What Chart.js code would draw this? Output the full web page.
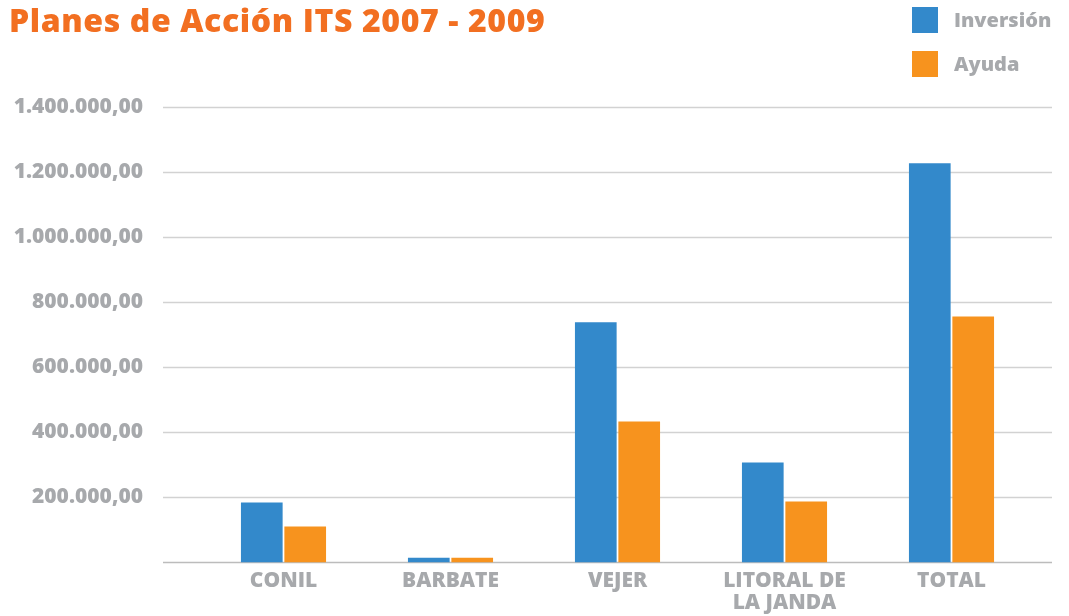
<!DOCTYPE html>
<html>
<head>
<meta charset="utf-8">
<script src="https://cdn.jsdelivr.net/npm/chart.js@4/dist/chart.umd.min.js"></script>
<style>
    body { margin:0; background:#fff; font-family:'Open Sans', sans-serif; overflow:hidden; }
    #wrap { position:relative; width:1069px; height:616px; overflow:hidden; }
    #title { position:absolute; left:9px; top:-2px; font-size:32px; font-weight:800; color:#f26f21; letter-spacing:0.6px; white-space:nowrap; }
    .leg { position:absolute; left:912px; font-size:20px; font-weight:800; color:#a7a9ac; white-space:nowrap; }
    .leg span { display:inline-block; width:26px; height:26px; vertical-align:top; margin-right:16px; }
</style>
</head>
<body>
<div id="wrap">
    <div id="title">Planes de Acción ITS 2007 - 2009</div>
    <div id="legend"></div>
    <!-- a bit taller than the window so the plot bottom lands like the original -->
    <canvas id="chart" width="1069" height="624"></canvas>
</div>
<script>
var categories = ['CONIL', 'BARBATE', 'VEJER', ['LITORAL DE', 'LA JANDA'], 'TOTAL'];
var seriesNames = ['Inversión', 'Ayuda'];
var inversion = [184000, 14000, 738000, 307000, 1227000];
var ayuda = [110000, 14000, 433000, 187000, 756000];
var yTicks = [0, 200000, 400000, 600000, 800000, 1000000, 1200000, 1400000];
var colors = ['#3389cb', '#f7931e'];

var grey = '#a7a9ac';

// 1.400.000,00 style
var fmt = function(v) {
    var s = Math.round(v).toString().replace(/\B(?=(\d{3})+(?!\d))/g, '.');
    return s + ',00';
};

// legend squares + labels
var legendEl = document.getElementById('legend');
seriesNames.forEach(function(name, i) {
    var d = document.createElement('div');
    d.className = 'leg';
    d.style.top = (7 + i * 44) + 'px';
    d.innerHTML = '<span style="background:' + colors[i] + '"></span>' + name;
    d.style.lineHeight = '26px';
    legendEl.appendChild(d);
});

// gridlines wider than the category area, drawn under the bars
var gridPlugin = {
    id: 'wideGrid',
    beforeDatasetsDraw: function(chart) {
        var ctx = chart.ctx, y = chart.scales.y;
        ctx.save();
        yTicks.forEach(function(t) {
            var py = Math.round(y.getPixelForValue(t)) + 0.5;
            ctx.beginPath();
            ctx.lineWidth = t === 0 ? 1.5 : 1.3;
            ctx.strokeStyle = t === 0 ? '#bcbcbc' : '#d2d2d2';
            ctx.moveTo(163, py);
            ctx.lineTo(1052, py);
            ctx.stroke();
        });
        ctx.restore();
    }
};

new Chart(document.getElementById('chart'), {
    type: 'bar',
    data: {
        labels: categories,
        datasets: [{
            label: seriesNames[0],
            data: inversion,
            backgroundColor: colors[0],
            categoryPercentage: 0.52,
            barPercentage: 0.96
        }, {
            label: seriesNames[1],
            data: ayuda,
            backgroundColor: colors[1],
            categoryPercentage: 0.52,
            barPercentage: 0.96
        }]
    },
    options: {
        responsive: false,
        animation: false,
        layout: { padding: { top: 107, right: 34, left: 0, bottom: 0 } },
        plugins: { legend: { display: false }, tooltip: { enabled: false } },
        scales: {
            x: {
                grid: { display: false },
                border: { display: false },
                ticks: {
                    color: grey,
                    padding: 0,
                    maxRotation: 0,
                    font: { family: 'Open Sans', size: 21, weight: 800, lineHeight: 1.05 }
                }
            },
            y: {
                min: 0,
                max: 1400000,
                grid: { display: false },
                border: { display: false },
                afterFit: function(scale) { scale.width = 200; },
                afterBuildTicks: function(scale) {
                    scale.ticks = yTicks.map(function(v) { return { value: v }; });
                },
                ticks: {
                    color: grey,
                    padding: 49,
                    font: { family: 'Open Sans', size: 21, weight: 800 },
                    callback: function(v) { return v === 0 ? '' : fmt(v); }
                }
            }
        }
    },
    plugins: [gridPlugin]
});
</script>
</body>
</html>
